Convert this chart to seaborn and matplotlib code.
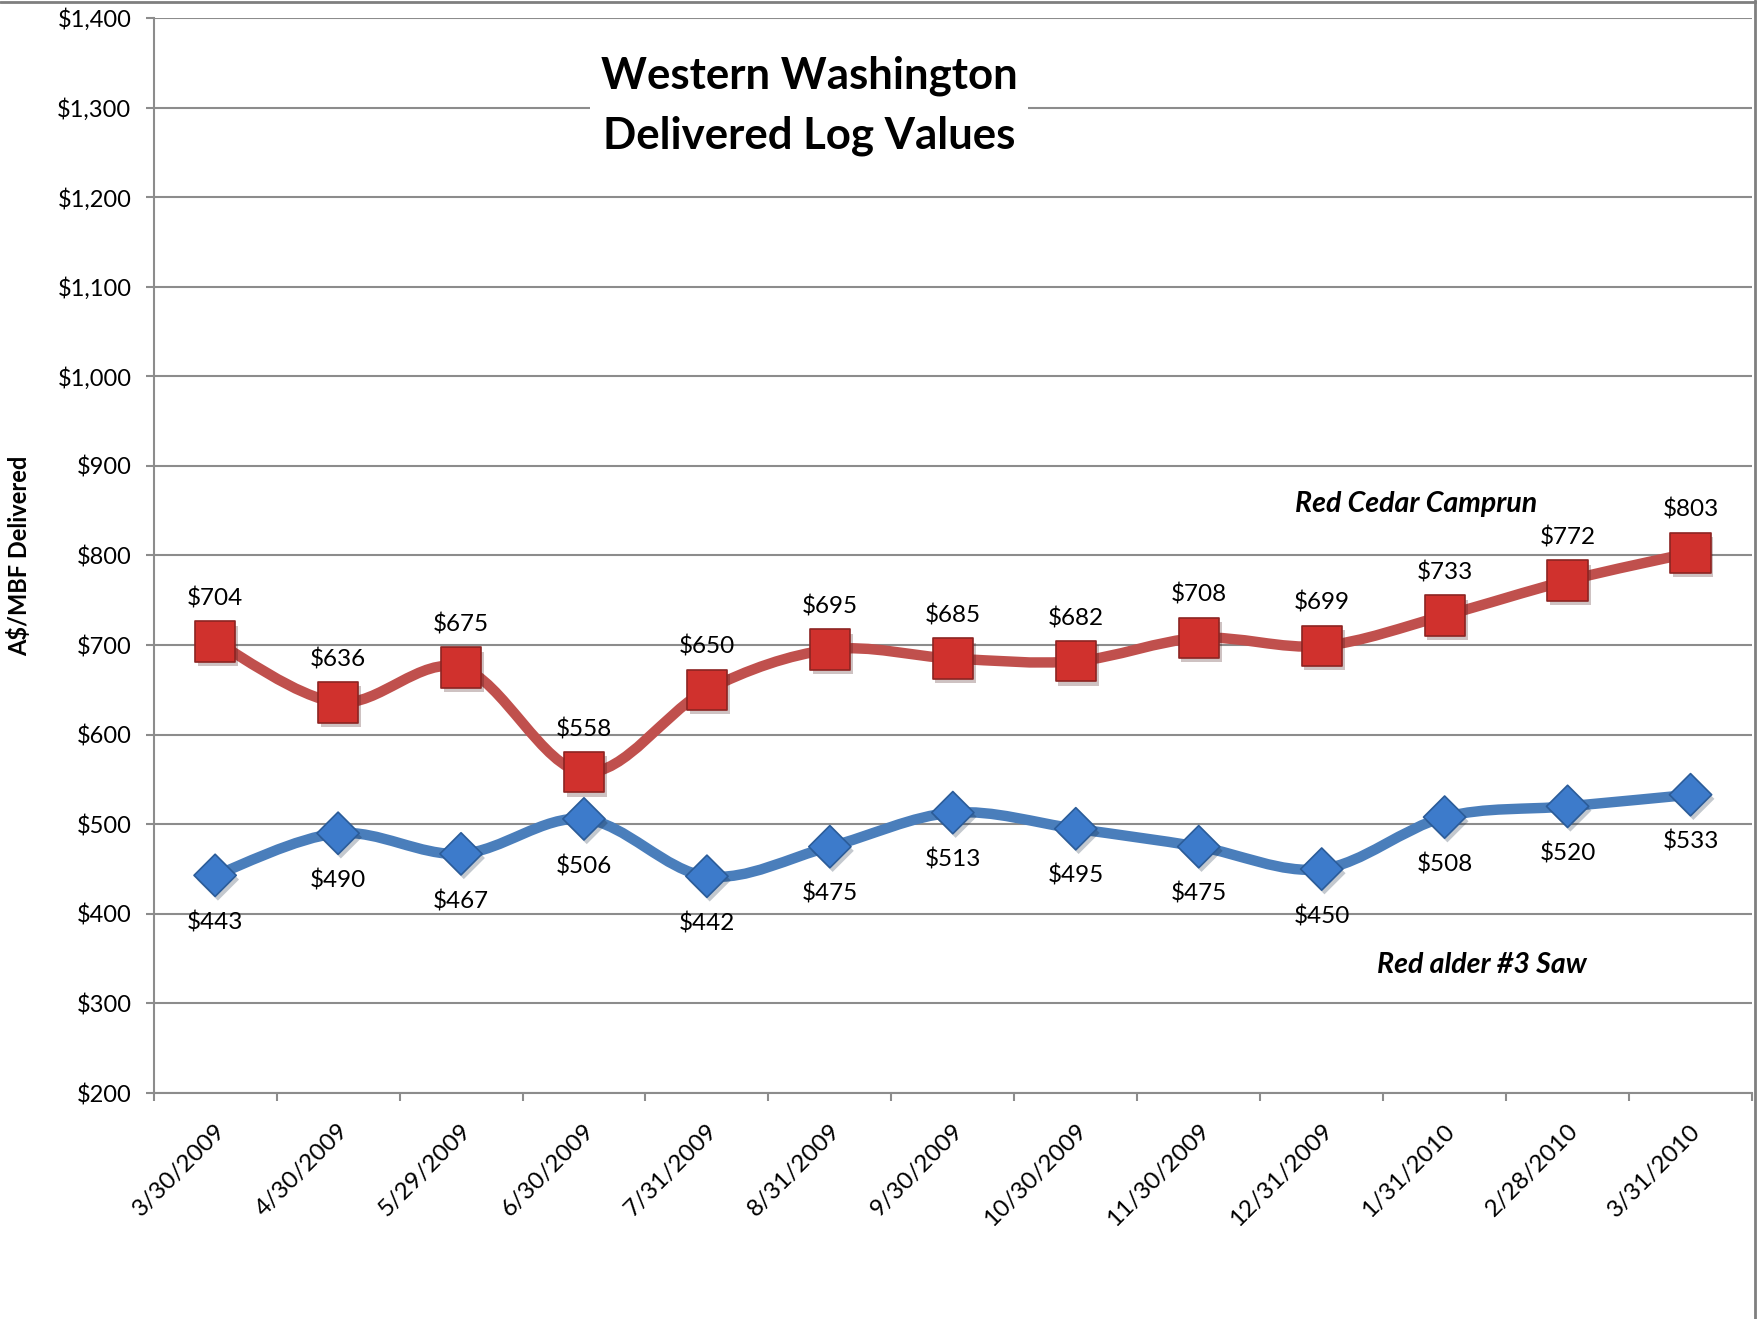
import matplotlib
matplotlib.use("Agg")
import matplotlib.pyplot as plt
import matplotlib.patheffects as pe
from matplotlib.lines import Line2D
from matplotlib.path import Path
from matplotlib.patches import PathPatch
from matplotlib.ticker import FixedLocator, StrMethodFormatter
from matplotlib.transforms import ScaledTranslation
import numpy as np
import pandas as pd
import seaborn as sns

dates = ["3/30/2009", "4/30/2009", "5/29/2009", "6/30/2009", "7/31/2009", "8/31/2009",
         "9/30/2009", "10/30/2009", "11/30/2009", "12/31/2009", "1/31/2010", "2/28/2010",
         "3/31/2010"]
red_cedar = [704, 636, 675, 558, 650, 695, 685, 682, 708, 699, 733, 772, 803]
red_alder = [443, 490, 467, 506, 442, 475, 513, 495, 475, 450, 508, 520, 533]

RED_LINE = "#C0504D"
RED_FILL = "#D0312D"
RED_EDGE = "#8C2422"
BLUE_LINE = "#4A7EBB"
BLUE_FILL = "#3D7BCB"
BLUE_EDGE = "#2B5C99"
GRID = "#8C8C8C"


def smooth_path(xs, ys):
    # excel-style smoothed line: one cubic bezier per segment (catmull-rom control points)
    pts = np.column_stack([xs, ys]).astype(float)
    padded = np.vstack([pts[0], pts, pts[-1]])
    verts = [pts[0]]
    codes = [Path.MOVETO]
    for i in range(len(pts) - 1):
        p0, p1, p2, p3 = padded[i], padded[i + 1], padded[i + 2], padded[i + 3]
        verts += [p1 + (p2 - p0) / 6, p2 - (p3 - p1) / 6, p2]
        codes += [Path.CURVE4] * 3
    return Path(verts, codes)


sns.set_theme(style="white")
plt.rcParams["font.family"] = ["Lato", "DejaVu Sans"]
plt.rcParams.update({"text.color": "black", "axes.labelcolor": "black",
                     "xtick.color": "black", "ytick.color": "black"})

df = pd.DataFrame({"idx": np.arange(len(dates)), "date": dates,
                   "cedar": red_cedar, "alder": red_alder})

fig = plt.figure(figsize=(17.58, 13.19), dpi=100)
ax = fig.add_axes([0.0874, 0.1713, 0.9092, 0.8151])

for col, color in [("cedar", RED_LINE), ("alder", BLUE_LINE)]:
    ax.add_patch(PathPatch(smooth_path(df["idx"], df[col]), facecolor="none", edgecolor=color,
                           lw=7.5, capstyle="round", joinstyle="round", zorder=2))

shadow = [pe.SimplePatchShadow(offset=(2, -3), alpha=0.25), pe.Normal()]
sns.scatterplot(data=df, x="idx", y="cedar", marker="s", s=29 ** 2, color=RED_FILL,
                edgecolor=RED_EDGE, linewidth=1.2, ax=ax, zorder=3, path_effects=shadow)
sns.scatterplot(data=df, x="idx", y="alder", marker="D", s=21.5 ** 2, color=BLUE_FILL,
                edgecolor=BLUE_EDGE, linewidth=1.2, ax=ax, zorder=3, path_effects=shadow)

for i, row in df.iterrows():
    ax.annotate(f"${row['cedar']}", (row["idx"], row["cedar"]), xytext=(0, 31),
                textcoords="offset points", ha="center", va="center", fontsize=17.5)
    ax.annotate(f"${row['alder']}", (row["idx"], row["alder"]), xytext=(0, -34),
                textcoords="offset points", ha="center", va="center", fontsize=17.5)

ax.set_xlim(-0.5, len(dates) - 0.5)
ax.set_ylim(200, 1400)
ax.yaxis.set_major_locator(FixedLocator(np.arange(200, 1401, 100)))
ax.yaxis.set_major_formatter(StrMethodFormatter("${x:,.0f}"))
ax.grid(axis="y", color=GRID, lw=1.5)
ax.set_axisbelow(True)

ax.set_xticks(df["idx"])
ax.set_xticklabels(dates, rotation=45, ha="right", va="center", rotation_mode="anchor")
ax.set_xticks(np.arange(-0.5, len(dates)), minor=True)
ax.tick_params(axis="x", which="major", length=0, pad=25, labelsize=17.5)
ax.tick_params(axis="x", which="minor", length=6, width=1.5, color=GRID, direction="out",
               bottom=True)
ax.tick_params(axis="y", length=6, width=1.5, color=GRID, direction="out", left=True,
               pad=10, labelsize=17)
shift = ScaledTranslation(0.07, 0, fig.dpi_scale_trans)
for lab in ax.get_xticklabels():
    lab.set_transform(lab.get_transform() + shift)

for side in ["top", "right"]:
    ax.spines[side].set_visible(False)
for side in ["left", "bottom"]:
    ax.spines[side].set_color(GRID)
    ax.spines[side].set_linewidth(1.5)

ax.set_xlabel("")
ax.set_ylabel("A$/MBF Delivered", fontsize=17, fontweight="bold")
ax.yaxis.set_label_coords(-0.0765, 0.5)

ax.text(0.41, 0.918, "Western Washington\nDelivered Log Values", transform=ax.transAxes,
        ha="center", va="center", fontsize=31.5, fontweight="bold", linespacing=1.6,
        bbox=dict(facecolor="white", edgecolor="none", pad=8), zorder=4)
ax.text(9.77, 858, "Red Cedar Camprun", ha="center", va="center", fontsize=20.5,
        fontweight="bold", fontstyle="italic")
ax.text(10.3, 343, "Red alder #3 Saw", ha="center", va="center", fontsize=20.5,
        fontweight="bold", fontstyle="italic")

# chart-area border visible at top and right edges
fig.add_artist(Line2D([0, 1], [0.9985, 0.9985], transform=fig.transFigure, color="#7F7F7F", lw=2))
fig.add_artist(Line2D([0.9985, 0.9985], [0, 1], transform=fig.transFigure, color="#7F7F7F", lw=2))

fig.savefig("out.png", dpi=100)
plt.close(fig)
